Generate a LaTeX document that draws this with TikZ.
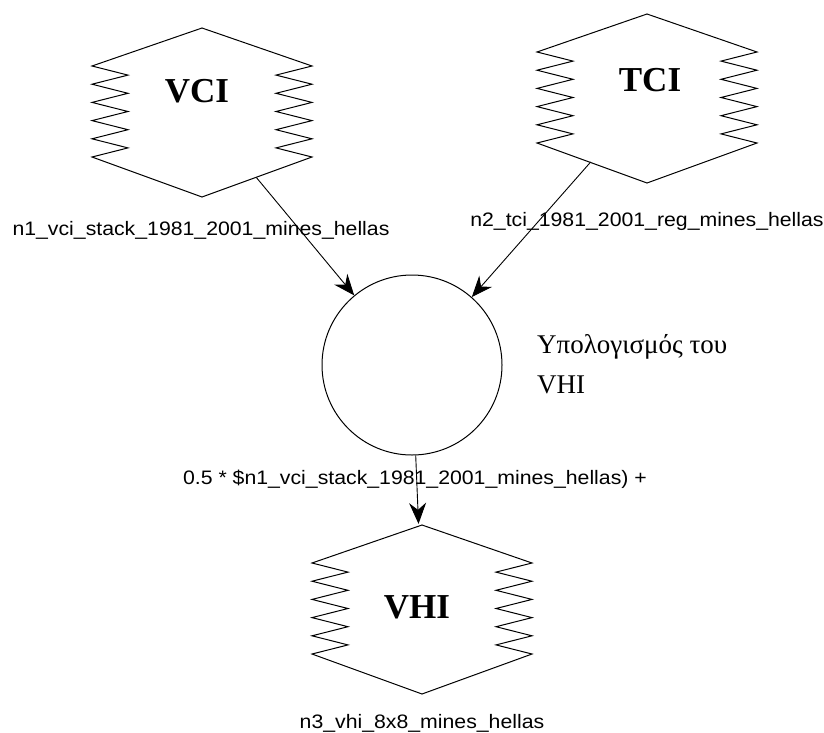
\documentclass[tikz,border=0pt]{standalone}
\usepackage{fontspec}
\setmainfont{Liberation Serif}
\newfontfamily\lblfont[FakeStretch=1.09]{Liberation Sans}
\usetikzlibrary{arrows.meta}
\tikzset{
  zhex/.style={circle, minimum size=170pt, inner sep=0pt, draw=none},
  proc/.style={circle, draw, line width=1pt, minimum size=180pt, inner sep=0pt},
  nametxt/.style={font=\fontsize{35}{40}\selectfont\bfseries, inner sep=0pt},
  idlbl/.style={font=\lblfont\fontsize{19.5}{22}\selectfont, inner sep=0pt, anchor=base},
  greektxt/.style={font=\fontsize{27}{30}\selectfont, inner sep=0pt, anchor=base west},
  conn/.style={draw, line width=0.9pt, -{Stealth[length=21pt,width=17pt,inset=7pt]}},
  hexline/.style={line width=1pt, line join=miter},
}
\newcommand\zhexdraw[1]{%
  \draw[hexline, shift={(#1.center)}] (0,-84) -- (110,-46)
    foreach \i in {0,...,4} { -- (74,{-46+18.2*\i+9.1}) -- (110,{-46+18.2*(\i+1)}) }
    -- (0,85) -- (-110,45)
    foreach \i in {0,...,4} { -- (-74,{45-18.2*\i-9.1}) -- (-110,{45-18.2*(\i+1)}) }
    -- cycle;}
\begin{document}
\begin{tikzpicture}[x=1pt, y=-1pt]
\useasboundingbox[fill=white] (0,0) rectangle (824,732);
% hexagon anchors
\node[zhex] (vci) at (202,112) {};
\node[zhex] (tci) at (647,98) {};
\node[zhex] (vhi) at (422,609) {};
\node[proc] (proc) at (412,365) {};
% shapes
\zhexdraw{vci}
\zhexdraw{tci}
\zhexdraw{vhi}
% names inside
\node[nametxt] (vcit) at (197,91) {VCI};
\node[nametxt] (tcit) at (650,80) {TCI};
\node[nametxt] (vhit) at (417,607) {VHI};
% labels
\node[idlbl] (vcil) at (201,235) {n1\_vci\_stack\_1981\_2001\_mines\_hellas};
\node[idlbl] (tcil) at (647,226) {n2\_tci\_1981\_2001\_reg\_mines\_hellas};
\node[idlbl] (vhil) at (422,728) {n3\_vhi\_8x8\_mines\_hellas};
\node[idlbl] (elbl) at (415,484) {0.5 * \$n1\_vci\_stack\_1981\_2001\_mines\_hellas) +};
\node[greektxt] (procl1) at (537,353) {Υπολογισμός του};
\node[greektxt] (procl2) at (537,393) {VHI};
% connectors
\draw[conn] (vci) -- (proc);
\draw[conn] (tci) -- (proc);
\draw[conn] (proc) -- (vhi);
\end{tikzpicture}
\end{document}
